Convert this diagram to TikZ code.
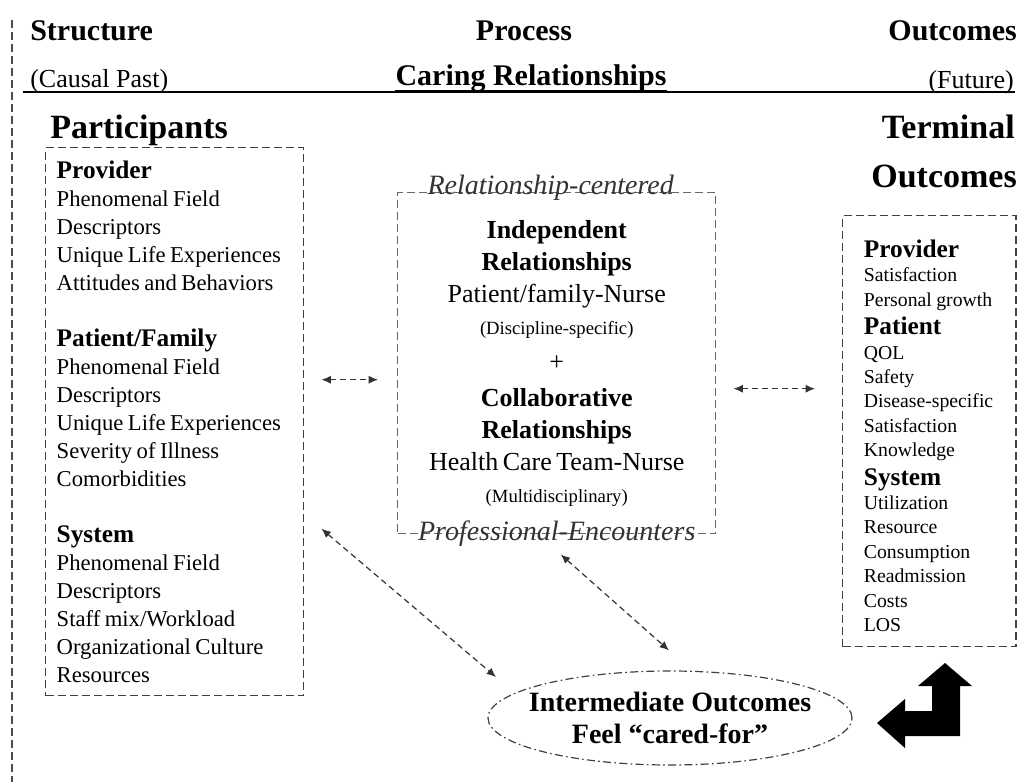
\documentclass[tikz,border=0pt]{standalone}
\usepackage{fontspec}
\setmainfont{Liberation Serif}
\usetikzlibrary{arrows.meta,shapes.geometric}

\newcommand{\parthead}{\fontsize{19}{21}\selectfont\bfseries}
\newcommand{\partfont}{\fontsize{17}{21}\selectfont\mdseries}
\newcommand{\relbold}{\fontsize{19.5}{24}\selectfont\bfseries}
\newcommand{\relplain}{\fontsize{19.5}{24}\selectfont\mdseries}
\newcommand{\relsmall}{\fontsize{14}{24}\selectfont\mdseries}
\newcommand{\outhead}{\fontsize{19}{18.3}\selectfont\bfseries}
\newcommand{\outfont}{\fontsize{14.8}{18.3}\selectfont\mdseries}

\tikzset{
  head/.style={font=\fontsize{22.5}{27}\selectfont\bfseries, inner sep=0pt},
  bighead/.style={font=\fontsize{25.5}{30}\selectfont\bfseries, inner sep=0pt},
  paren/.style={font=\fontsize{19.5}{24}\selectfont, inner sep=0pt},
  dashbox/.style={draw=black!75, line width=1.1pt, dash pattern=on 6pt off 3pt,
    anchor=north west, inner ysep=0pt},
  boxlabel/.style={font=\fontsize{21}{24}\selectfont\itshape, inner sep=0pt, text=black!80},
  link/.style={draw=black!80, line width=0.9pt, dash pattern=on 4.5pt off 3pt,
    {Latex[length=7pt,width=6pt]}-{Latex[length=7pt,width=6pt]}},
}

\begin{document}
\begin{tikzpicture}[x=0.75pt, y=-0.75pt]
  \useasboundingbox (0,0) rectangle (1022,782);

  % Draw the time line on the left
  \draw[black!70, line width=0.8pt, dash pattern=on 6pt off 3pt] (12,20) -- (12,782);

  % Column headings
  \node[head, anchor=base west] (struct) at (30,40) {Structure};
  \node[head, anchor=base] (proc) at (524,40) {Process};
  \node[head, anchor=base east] (outc) at (1017,40) {Outcomes};
  \node[paren, anchor=base west] (past) at (30,87) {(Causal Past)};
  \node[head, anchor=base] (caring) at (531,85) {Caring Relationships};
  \node[paren, anchor=base east] (future) at (1014,88) {(Future)};
  \draw[line width=1.2pt] (23,92) -- (1015,92);
  \draw[line width=2.2pt] (caring.south west) -- (caring.south east);

  \node[bighead, anchor=base west] (partic) at (50,138) {Participants};
  \node[bighead, anchor=base east] (term) at (1015,138) {Terminal};
  \node[bighead, anchor=base east] (termout) at (1017,187) {Outcomes};

  % Participants box
  \node[dashbox, align=left, text width=177pt, inner xsep=8.25pt,
        minimum width=193.5pt, minimum height=411pt] (part) at (45,147) {%
    \parthead Provider\\
    \partfont Phenomenal Field\\
    Descriptors\\
    Unique Life Experiences\\
    Attitudes and Behaviors\\[21pt]
    \parthead Patient/Family\\
    \partfont Phenomenal Field\\
    Descriptors\\
    Unique Life Experiences\\
    Severity of Illness\\
    Comorbidities\\[21pt]
    \parthead System\\
    \partfont Phenomenal Field\\
    Descriptors\\
    Staff mix/Workload\\
    Organizational Culture\\
    Resources\par};

  % Relationships box
  \node[dashbox, draw=black!60, align=center, text width=222.5pt, inner xsep=8pt,
        minimum width=238.5pt, minimum height=255.75pt] (rel) at (397,192) {%
    \relbold Independent\\
    Relationships\\
    \relplain Patient/family-Nurse\\
    \relsmall (Discipline-specific)\\[3pt]
    \relplain +\\[3pt]
    \relbold Collaborative\\
    Relationships\\
    \relplain Health Care Team-Nurse\\
    \relsmall (Multidisciplinary)\par};
  \node[boxlabel] (reltop) at ([shift={(-6,-4)}]rel.north) {Relationship-centered};
  \node[boxlabel] (relbot) at ([shift={(0,-1)}]rel.south) {Professional-Encounters};

  % Terminal outcomes box
  \node[dashbox, align=left, text width=98pt, inner xsep=15.9pt,
        minimum width=129.75pt, minimum height=323.25pt] (out) at (842,215) {%
    \outhead\rule{0pt}{20pt}Provider\\
    \outfont Satisfaction\\
    Personal growth\\[3pt]
    \outhead Patient\\
    \outfont QOL\\
    Safety\\
    Disease-specific\\
    Satisfaction\\
    Knowledge\\[3pt]
    \outhead System\\
    \outfont Utilization\\
    Resource\\
    Consumption\\
    Readmission\\
    Costs\\
    LOS\par};

  % Intermediate outcomes
  \node[ellipse, draw=black!75, line width=0.9pt,
        dash pattern=on 6pt off 2.5pt on 1.2pt off 2.5pt,
        minimum width=273pt, minimum height=70.5pt, inner xsep=-11pt, inner ysep=0pt,
        align=center, font=\fontsize{21}{24}\selectfont\bfseries] (inter) at (670,718)
        {Intermediate Outcomes\\Feel “cared-for”};

  % Links
  \draw[link] ([shift={(17,-42)}]part.east) -- ([shift={(-19,16.5)}]rel.west);
  \draw[link] ([shift={(17,25.5)}]rel.east) -- ([shift={(-27,-42.5)}]out.west);
  \draw[link] ([shift={(17,107)}]part.east) -- ([shift={(-174,-41)}]inter.center);
  \draw[link] ([shift={(4,20)}]rel.south) -- ([shift={(-1,-20)}]inter.north);

  % Feedback arrow
  \fill (945,663) -- (972,686) -- (960,686) -- (960,736) -- (905,736) -- (905,748)
    -- (877,723) -- (905,699) -- (905,711) -- (932,711) -- (932,686) -- (918,686) -- cycle;
\end{tikzpicture}
\end{document}
